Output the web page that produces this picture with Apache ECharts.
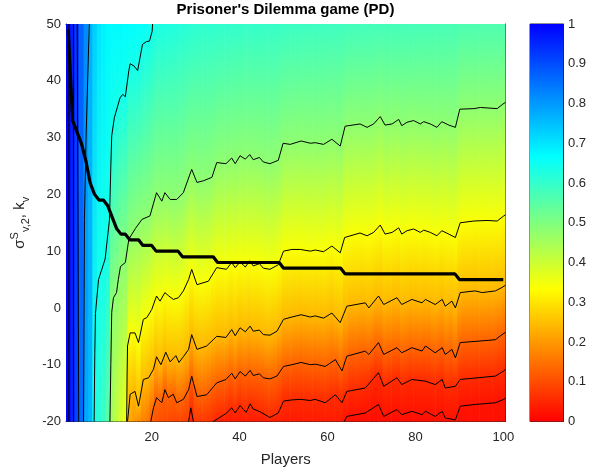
<!DOCTYPE html>
<html>
<head>
<meta charset="utf-8">
<title>Prisoner's Dilemma game (PD)</title>
<script src="https://cdn.jsdelivr.net/npm/echarts@6/dist/echarts.min.js"></script>
<style>
html, body { margin: 0; padding: 0; background: #fff; }
#chart { width: 590px; height: 476px; }
</style>
</head>
<body>
<div id="chart"></div>
<script>
// players on the x axis
var players = [
    1, 2, 3, 4, 5, 6, 7, 8, 9, 10, 11, 12, 13, 14, 15, 16, 17, 18, 19, 20,
    21, 22, 23, 24, 25, 26, 27, 28, 29, 30, 31, 32, 33, 34, 35, 36, 37, 38, 39, 40,
    41, 42, 43, 44, 45, 46, 47, 48, 49, 50, 51, 52, 53, 54, 55, 56, 57, 58, 59, 60,
    61, 62, 63, 64, 65, 66, 67, 68, 69, 70, 71, 72, 73, 74, 75, 76, 77, 78, 79, 80,
    81, 82, 83, 84, 85, 86, 87, 88, 89, 90, 91, 92, 93, 94, 95, 96, 97, 98, 99, 100
];

// thick black line (k_v per player)
var kvLine = [
    49, 33, 31, 29, 26, 22, 20, 19, 19, 18,
    16, 14, 13, 13, 12, 12, 12, 11, 11, 11,
    10, 10, 10, 10, 10, 10, 9, 9, 9, 9,
    9, 9, 9, 9, 8, 8, 8, 8, 8, 8,
    8, 8, 8, 8, 8, 8, 8, 8, 8, 7,
    7, 7, 7, 7, 7, 7, 7, 7, 7, 7,
    7, 7, 7, 6, 6, 6, 6, 6, 6, 6,
    6, 6, 6, 6, 6, 6, 6, 6, 6, 6,
    6, 6, 6, 6, 6, 6, 6, 6, 6, 5,
    5, 5, 5, 5, 5, 5, 5, 5, 5, 5
];

// cell value at the top row (y = 50) of every player column
var topVals = [
    1.00, 0.96, 0.92, 0.87, 0.82, 0.77, 0.73, 0.70, 0.685, 0.675,
    0.67, 0.67, 0.67, 0.668, 0.666, 0.665, 0.662, 0.66, 0.655, 0.645,
    0.636, 0.632, 0.63, 0.627, 0.625, 0.622, 0.62, 0.617, 0.612, 0.61,
    0.608, 0.607, 0.606, 0.605, 0.604, 0.603, 0.602, 0.601, 0.600, 0.600,
    0.599, 0.598, 0.598, 0.597, 0.597, 0.596, 0.596, 0.595, 0.595, 0.59,
    0.59, 0.589, 0.589, 0.588, 0.588, 0.587, 0.587, 0.586, 0.586, 0.585,
    0.585, 0.585, 0.584, 0.58, 0.58, 0.579, 0.579, 0.579, 0.578, 0.578,
    0.578, 0.577, 0.577, 0.577, 0.576, 0.576, 0.576, 0.575, 0.575, 0.575,
    0.574, 0.574, 0.574, 0.573, 0.573, 0.573, 0.572, 0.572, 0.572, 0.566,
    0.566, 0.566, 0.565, 0.565, 0.565, 0.564, 0.564, 0.564, 0.563, 0.563
];

// cell value at the bottom row (y = -20)
var bottomVals = [
    1.00, 0.955, 0.91, 0.86, 0.78, 0.76, 0.63, 0.61, 0.59, 0.55,
    0.45, 0.41, 0.38, 0.35, 0.22, 0.20, 0.18, 0.17, 0.155, 0.12,
    0.11, 0.10, 0.10, 0.095, 0.09, 0.09, 0.085, 0.08, 0.045, 0.075,
    0.07, 0.07, 0.065, 0.05, 0.035, 0.035, 0.035, 0.035, 0.035, 0.035,
    0.035, 0.035, 0.035, 0.035, 0.035, 0.035, 0.035, 0.035, 0.035, 0.035,
    0.035, 0.035, 0.035, 0.035, 0.035, 0.035, 0.035, 0.035, 0.035, 0.035,
    0.035, 0.035, 0.035, 0.018, 0.018, 0.018, 0.018, 0.018, 0.018, 0.018,
    0.018, 0.018, 0.018, 0.018, 0.018, 0.018, 0.018, 0.018, 0.018, 0.018,
    0.018, 0.018, 0.018, 0.018, 0.018, 0.018, 0.018, 0.018, 0.018, 0.018,
    0.018, 0.018, 0.018, 0.018, 0.018, 0.018, 0.018, 0.018, 0.018, 0.018
];

// contour lines, [player, y]
var line98 = [[1.15, -20], [1.15, 50]];
var line94 = [[2.2, -20], [2.2, 50]];
var line88 = [[3.4, -20], [3.05, 50]];
var line80 = [[4.5, -20], [4.7, 15.6], [5.05, 29.7], [5.8, 50]];
var line64 = [[6.9, -20], [7.05, -8], [7.2, -1], [7.9, 5], [9.4, 8.6], [10.4, 15.6], [10.7, 25], [10.9, 30.3],
    [11.5, 33.5], [12.8, 37], [13.4, 37.6], [14, 37.2], [14.8, 41.8], [15.1, 43], [16, 42.6], [16.8, 41.8],
    [17.9, 46.4], [18.8, 46.9], [19.5, 47], [20.1, 48.7], [20.2, 50]];
var line48 = [[10.5, -20], [10.7, -10], [10.9, -0.8], [11.3, 1.8], [12, 2.7], [12.4, 5], [12.9, 7.3], [14, 8],
    [14.8, 12.1], [16.3, 14], [17.8, 15.6], [19.6, 16.2], [21.1, 20.3], [22.3, 18.8], [23, 20.3], [24.2, 19.1],
    [25.7, 19.1], [27.2, 20.3], [29.1, 24.4], [30.3, 22.1], [31.8, 22.4], [33.7, 23], [34.8, 25.6], [36.9, 25.4],
    [38.2, 26.4], [39, 25.4], [40.1, 26.8], [41.3, 26.2], [42.3, 27], [43.1, 26.1], [44.5, 26.5], [45.4, 25.7],
    [46.9, 25.4], [48.8, 26], [49.9, 29], [51.5, 28.8], [54, 29.4], [56.1, 29], [57.2, 29.1], [59.1, 28.8],
    [61, 29.7], [62.9, 28.5], [64, 32], [67.4, 32.4], [69, 31.8], [70.5, 32.4], [72, 33.7], [73.1, 32.2],
    [74.7, 32.4], [76.2, 33.2], [76.9, 32.1], [78.1, 32.7], [79.6, 33], [81.1, 32.4], [81.9, 32.8], [83.4, 32.4],
    [84.9, 31.8], [86, 32.8], [87.6, 32.2], [89.1, 31.8], [90.1, 35], [93.3, 35.1], [94.8, 35.3], [98.6, 35.1],
    [99.9, 35.9], [100.5, 36.2]];
var line34 = [[14.3, -20], [14.4, -12], [14.5, -6.7], [15.1, -4.4], [16.2, -4.4], [17, -6.1], [18.1, -2],
    [18.9, -1.7], [20, -0.3], [21.1, 2.1], [21.9, 1.2], [23, 2.7], [23.9, 2.1], [24.9, 1.5], [26.1, 1.8],
    [27.2, 3], [28.4, 5], [29.1, 6.8], [30.3, 4.1], [32.9, 4.7], [34.8, 7.1], [37, 6.8], [38.2, 8], [39, 7.1],
    [40.1, 8.1], [41.3, 7.2], [42.3, 8.3], [43.1, 7.4], [44.5, 7.8], [45.4, 7], [46.9, 6.8], [48.8, 7.6],
    [50, 10], [51.9, 10.3], [53.8, 10.3], [56.1, 10], [57.2, 10.2], [59.1, 9.9], [61, 10.9], [62.9, 9.7],
    [63.9, 12.4], [67.4, 13.2], [69, 12.7], [70.5, 13.3], [72, 14.6], [73.1, 13], [74.7, 13.3], [76.2, 14.1],
    [76.9, 13], [78.1, 13.6], [79.6, 13.9], [81.1, 13.3], [81.9, 13.7], [83.4, 13.3], [84.9, 12.7], [86, 13.6],
    [87.6, 13], [89.1, 12.4], [90.2, 15], [93.3, 15.3], [96.3, 15.4], [98.6, 15.3], [100.1, 16.2], [100.5, 16.4]];
var line24 = [[14.5, -20], [15.1, -15.2], [16.2, -14.7], [17, -17.3], [18.1, -12.6], [19.3, -12.3], [20.4, -10.8],
    [21.1, -8.6], [22.1, -10], [23.2, -7.8], [24.2, -9.5], [25.5, -8.4], [26.2, -9.6], [27.2, -8.6], [28.4, -7.3],
    [29.1, -4.7], [30.3, -7.3], [32.5, -6.7], [34.8, -5], [36.9, -5.2], [38.2, -3.8], [39, -4.9], [40.1, -3.5],
    [41.3, -4.2], [42.4, -3.2], [43.1, -4.1], [44.5, -3.9], [45.4, -4.7], [46.9, -4.8], [48.5, -4.1], [50, -2],
    [51.9, -1.6], [54, -1.2], [56.1, -1.6], [57.2, -1.4], [59.1, -1.8], [61, -0.9], [62.9, -2.6], [64.4, 0.3],
    [68.6, 0.9], [69.4, 0], [71.6, 2.1], [72.8, 0.6], [75.8, 1.8], [76.9, 0.6], [79.2, 1.5], [81.5, 0.9],
    [82.3, 1.5], [84.5, 0.6], [86.1, 1.5], [86.8, 0.3], [88.3, 1.2], [89.1, 0], [90.2, 2.7], [93.6, 3],
    [95.2, 2.7], [98.2, 3], [99.7, 3.6], [100.5, 4]];
var line13 = [[19.8, -20], [20.4, -17.6], [21.1, -15.8], [22.3, -16.7], [23, -14.4], [23.8, -15.8], [24.9, -15.2],
    [25.7, -16.7], [27.2, -16.1], [28.4, -14.4], [29.1, -12], [30.3, -15.6], [32.5, -15.3], [34.8, -13.2],
    [36.9, -12.6], [38.2, -11.5], [39, -12.5], [40.1, -11.2], [41.3, -12], [42.4, -11], [43.1, -11.9],
    [44.5, -11.6], [45.4, -12.3], [46.9, -12.5], [48.5, -12], [50, -10.3], [51.9, -10], [54, -9.6], [56.1, -10],
    [57.2, -9.9], [59.5, -10.3], [61.8, -9.1], [63.3, -11.1], [64.4, -8.5], [68.6, -7.6], [69.4, -8.2],
    [71.6, -6.1], [72.8, -8.2], [75.8, -7], [76.9, -7.9], [79.2, -7], [81.5, -7.6], [82.3, -6.7], [84.5, -7.9],
    [86.1, -7], [86.8, -8.2], [88.3, -7.3], [89.1, -8.8], [90.2, -6.1], [93.6, -5.9], [98.2, -5.6],
    [99.7, -4.7], [100.5, -4.3]];
var line055a = [[28.4, -20], [28.9, -17.6], [29.5, -20]];
var line055b = [[34, -20], [36.9, -18.6], [38.2, -17.6], [39, -18.5], [40.1, -17.2], [41.5, -18.4], [42.4, -16.9],
    [43.1, -17.8], [44.7, -18.3], [46.9, -19.3], [48.8, -18.5], [50, -16.4], [51.9, -16.2], [53.8, -16.1],
    [56.1, -16.3], [57.2, -16.1], [59.5, -16.7], [61.8, -15.3], [63.3, -16.7], [64.4, -14.7], [68.6, -14.1],
    [71.6, -11.4], [72.8, -13.8], [75.8, -12.3], [76.9, -13.5], [79.2, -12.6], [82.3, -12.9], [84.5, -13.5],
    [86.1, -12.6], [86.8, -14.1], [89.1, -13.8], [90.2, -12.6], [98.2, -12], [100.1, -11.1], [100.5, -10.8]];
var line025 = [[63.8, -20], [64.4, -19.1], [68.6, -18.5], [71.6, -17], [72.8, -19.1], [75.8, -17.9], [76.9, -18.8],
    [79.2, -18.2], [81.5, -18.8], [82.3, -18.2], [84.5, -19.1], [86.1, -18.2], [86.8, -19.4], [89.1, -19.7],
    [90.2, -17.3], [93.6, -17], [98.2, -16.7], [100.1, -16.1], [100.5, -15.9]];

var contours = [
    { level: 0.98, segs: [line98] },
    { level: 0.935, segs: [line94] },
    { level: 0.89, segs: [line88] },
    { level: 0.80, segs: [line80] },
    { level: 0.64, segs: [line64] },
    { level: 0.48, segs: [line48] },
    { level: 0.34, segs: [line34] },
    { level: 0.24, segs: [line24] },
    { level: 0.13, segs: [line13] },
    { level: 0.055, segs: [line055a, line055b] },
    { level: 0.025, segs: [line025] }
];

// colour scale: red -> yellow -> cyan -> blue
var cmapColors = ['#ff0000', '#ffff00', '#00ffff', '#0000ff'];

var YMIN = -20, YMAX = 50;

function hexRgb(h) {
    return [parseInt(h.substr(1, 2), 16), parseInt(h.substr(3, 2), 16), parseInt(h.substr(5, 2), 16)];
}

function valueColor(v) {
    v = Math.max(0, Math.min(1, v));
    var n = cmapColors.length - 1;
    var i = Math.min(n - 1, Math.floor(v * n));
    var t = v * n - i;
    var a = hexRgb(cmapColors[i]), b = hexRgb(cmapColors[i + 1]);
    return 'rgb(' + [0, 1, 2].map(function (k) {
        return Math.round(a[k] + (b[k] - a[k]) * t);
    }).join(',') + ')';
}

// where the drawn contour lines cross the centre of a column
function columnCrossings(xc) {
    var out = [];
    contours.forEach(function (c) {
        c.segs.forEach(function (seg) {
            for (var i = 0; i < seg.length - 1; i++) {
                var p = seg[i], q = seg[i + 1];
                var lo = Math.min(p[0], q[0]), hi = Math.max(p[0], q[0]);
                if (lo <= xc && xc < hi) {
                    var y = p[1] + (xc - p[0]) * (q[1] - p[1]) / (q[0] - p[0]);
                    if (y >= YMIN && y <= YMAX) out.push([y, c.level]);
                }
            }
        });
    });
    return out;
}

var columnFill = players.map(function (p, i) {
    var pts = [[YMAX, topVals[i]]].concat(columnCrossings(p), [[YMIN, bottomVals[i]]]);
    pts.sort(function (a, b) { return b[0] - a[0]; });
    var stops = pts.map(function (s) {
        return { offset: (YMAX - s[0]) / (YMAX - YMIN), color: valueColor(s[1]) };
    });
    return new echarts.graphic.LinearGradient(0, 0, 0, 1, stops);
});

var FONT = '"Liberation Sans", Arial, Helvetica, sans-serif';
var AX = '#262626';
var xTickVals = [20, 40, 60, 80, 100];

var chart = echarts.init(document.getElementById('chart'));

var lineSeries = [];
contours.forEach(function (c) {
    c.segs.forEach(function (seg) {
        lineSeries.push({
            type: 'line',
            xAxisIndex: 0,
            yAxisIndex: 0,
            data: seg,
            symbol: 'none',
            silent: true,
            z: 3,
            lineStyle: { color: '#000', width: 1 }
        });
    });
});

var option = {
    animation: false,
    backgroundColor: '#fff',
    textStyle: { fontFamily: FONT },
    graphic: [{
        type: 'text',
        x: 285.5,
        y: 2,
        style: {
            text: "Prisoner's Dilemma game (PD)",
            font: 'bold 15px ' + FONT,
            fill: '#000',
            textAlign: 'center',
            align: 'center',
            textVerticalAlign: 'top',
            verticalAlign: 'top'
        }
    }],
    grid: [
        { left: 66, right: 84.5, top: 24, bottom: 54.5 },
        { left: 530, right: 27, top: 24, bottom: 54.5, show: true, borderColor: AX, borderWidth: 1 }
    ],
    xAxis: [
        {
            gridIndex: 0, type: 'value', min: 0.5, max: 100.5, position: 'bottom',
            axisLine: { show: true, onZero: false, lineStyle: { color: AX } },
            axisTick: { show: true, inside: true, length: 4, customValues: xTickVals, lineStyle: { color: AX } },
            axisLabel: { customValues: xTickVals, margin: 9, fontSize: 13, color: AX },
            splitLine: { show: false },
            name: 'Players', nameLocation: 'middle', nameGap: 31,
            nameTextStyle: { fontSize: 15, color: AX }
        },
        {
            gridIndex: 0, type: 'value', min: 0.5, max: 100.5, position: 'top',
            axisLine: { show: true, onZero: false, lineStyle: { color: AX } },
            axisTick: { show: true, inside: true, length: 4, customValues: xTickVals, lineStyle: { color: AX } },
            axisLabel: { show: false },
            splitLine: { show: false }
        },
        { gridIndex: 1, type: 'category', data: ['cb'], show: false }
    ],
    yAxis: [
        {
            gridIndex: 0, type: 'value', min: YMIN, max: YMAX, interval: 10, position: 'left',
            axisLine: { show: true, onZero: false, lineStyle: { color: AX } },
            axisTick: { show: true, inside: true, length: 4, lineStyle: { color: AX } },
            axisLabel: { margin: 5, fontSize: 13, color: AX },
            splitLine: { show: false },
            name: '{m|σ}{sup|S}{sub|v,2}{m|, k}{sub|v}',
            nameLocation: 'middle', nameRotate: 90, nameGap: 30,
            nameTextStyle: {
                color: AX,
                rich: {
                    m: { fontSize: 15, lineHeight: 22, color: AX, fontFamily: FONT },
                    sup: { fontSize: 11, verticalAlign: 'top', color: AX, fontFamily: FONT },
                    sub: { fontSize: 11, verticalAlign: 'bottom', color: AX, fontFamily: FONT }
                }
            }
        },
        {
            gridIndex: 0, type: 'value', min: YMIN, max: YMAX, interval: 10, position: 'right',
            axisLine: { show: true, onZero: false, lineStyle: { color: AX } },
            axisTick: { show: true, inside: true, length: 4, lineStyle: { color: AX } },
            axisLabel: { show: false },
            splitLine: { show: false }
        },
        {
            gridIndex: 1, type: 'value', min: 0, max: 1, interval: 0.1, position: 'right',
            axisLine: { show: true, lineStyle: { color: AX } },
            axisTick: { show: true, inside: true, length: 4, lineStyle: { color: AX } },
            axisLabel: { margin: 5, fontSize: 13, color: AX },
            splitLine: { show: false }
        }
    ],
    series: [
        {
            type: 'custom',
            xAxisIndex: 0,
            yAxisIndex: 0,
            silent: true,
            z: 1,
            data: players.map(function (p) { return [p, 0]; }),
            encode: { x: 0, y: 1 },
            renderItem: function (params, api) {
                var x = api.value(0);
                var p0 = api.coord([x - 0.5, YMAX]);
                var p1 = api.coord([x + 0.5, YMIN]);
                return {
                    type: 'rect',
                    shape: { x: p0[0], y: p0[1], width: p1[0] - p0[0] + (x < 100 ? 0.6 : 0), height: p1[1] - p0[1] },
                    style: { fill: columnFill[x - 1] }
                };
            }
        }
    ].concat(lineSeries, [
        {
            type: 'line',
            xAxisIndex: 0,
            yAxisIndex: 0,
            data: kvLine.map(function (v, i) { return [players[i], v]; }),
            symbol: 'none',
            silent: true,
            z: 4,
            lineStyle: { color: '#000', width: 3.2 }
        },
        {
            type: 'bar',
            xAxisIndex: 2,
            yAxisIndex: 2,
            data: [1],
            barWidth: '100%',
            silent: true,
            itemStyle: {
                color: new echarts.graphic.LinearGradient(0, 1, 0, 0, cmapColors.map(function (c, i) {
                    return { offset: i / (cmapColors.length - 1), color: c };
                }))
            }
        }
    ])
};

chart.setOption(option);
</script>
</body>
</html>
